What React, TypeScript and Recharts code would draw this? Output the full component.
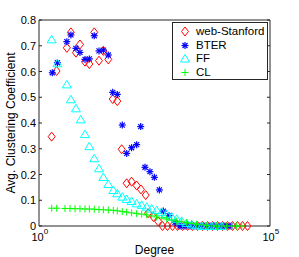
import React from 'react';
import { ScatterChart, Scatter, XAxis, YAxis, ReferenceLine } from 'recharts';

// web-Stanford
const webDegree = [1.88, 2.4, 4.0, 4.9, 6.3, 7.7, 9.9, 12.3, 15.7, 19.9, 24.7, 31.6, 39.4, 49.5, 61.6, 79, 101, 130, 161, 204, 230, 300, 380, 471, 604, 776, 995, 1277, 1638, 2102, 2697, 3459, 4438, 5694, 7305, 9372, 12024, 15427, 19792, 25393, 32578];
const webCoef = [0.347, 0.602, 0.692, 0.752, 0.673, 0.705, 0.638, 0.629, 0.752, 0.642, 0.68, 0.647, 0.493, 0.485, 0.298, 0.166, 0.172, 0.157, 0.142, 0.12, 0.05, 0.035, 0.018, 0, 0, 0, 0, 0, 0, 0, 0, 0, 0, 0, 0, 0, 0, 0, 0, 0, 0];

// BTER
const bterDegree = [1.94, 2.5, 4.0, 4.9, 6.3, 7.7, 9.9, 12.3, 15.7, 19.9, 24.7, 31.6, 39.4, 49.5, 63.5, 79, 101, 130, 159, 197, 252, 314, 403, 491, 651, 879, 1127, 1446, 1855, 2380, 3053, 3917, 5025, 6447, 8272, 10612, 13615];
const bterCoef = [0.595, 0.634, 0.716, 0.742, 0.69, 0.674, 0.647, 0.649, 0.739, 0.68, 0.683, 0.664, 0.519, 0.511, 0.392, 0.282, 0.304, 0.316, 0.386, 0.228, 0.211, 0.189, 0.14, 0.058, 0.04, 0.014, 0, 0, 0, 0, 0, 0, 0, 0, 0, 0, 0];

// FF
const ffDegree = [1.88, 2.5, 4.0, 4.9, 6.3, 8.0, 9.9, 12.3, 15.7, 19.9, 24.7, 31.6, 40.6, 49.5, 63.5, 79, 101, 130, 167, 215, 275, 353, 453, 581, 745, 957, 1227, 1574, 2019, 2590, 3324, 4264, 5470, 7017, 9010];
const ffCoef = [0.725, 0.632, 0.55, 0.492, 0.457, 0.414, 0.357, 0.31, 0.263, 0.224, 0.19, 0.163, 0.14, 0.127, 0.114, 0.105, 0.097, 0.088, 0.082, 0.075, 0.068, 0.062, 0.055, 0.047, 0.037, 0.028, 0.02, 0.012, 0.006, 0.003, 0, 0, 0, 0, 0];

// CL
const clDegree = [1.88, 2.42, 3.65, 4.69, 6.02, 7.71, 9.9, 12.3, 15.7, 19.9, 24.7, 31.6, 40.6, 49.5, 63.5, 79, 101, 130, 167, 215, 275, 353, 453, 581, 745, 957, 1227, 1574, 2019, 2590, 3324, 4264, 5470, 7017, 9010, 11560, 14830, 19020, 24400];
const clCoef = [0.069, 0.069, 0.068, 0.068, 0.067, 0.067, 0.066, 0.066, 0.065, 0.064, 0.063, 0.062, 0.061, 0.059, 0.056, 0.054, 0.051, 0.048, 0.046, 0.043, 0.039, 0.035, 0.031, 0.027, 0.023, 0.019, 0.016, 0.013, 0.01, 0.007, 0.004, 0.002, 0, 0, 0, 0, 0, 0, 0];

const yTicks = [0, 0.1, 0.2, 0.3, 0.4, 0.5, 0.6, 0.7, 0.8];
const xTicks = [1, 100000];

const FONT = '"Liberation Sans", Arial, sans-serif';
const AXIS = '#262626';

const toPoints = (xs: number[], ys: number[]) => xs.map((x, i) => ({ x, y: ys[i] }));

const Diamond = ({ cx, cy }: any) => (
  <polygon points={`${cx},${cy - 4.5} ${cx + 3.5},${cy} ${cx},${cy + 4.5} ${cx - 3.5},${cy}`} fill="none" stroke="#ff0000" strokeWidth={1} />
);

const Star = ({ cx, cy }: any) => (
  <g stroke="#0000ff" strokeWidth={1.2}>
    <line x1={cx - 3.5} y1={cy} x2={cx + 3.5} y2={cy} />
    <line x1={cx} y1={cy - 3.5} x2={cx} y2={cy + 3.5} />
    <line x1={cx - 2.5} y1={cy - 2.5} x2={cx + 2.5} y2={cy + 2.5} />
    <line x1={cx - 2.5} y1={cy + 2.5} x2={cx + 2.5} y2={cy - 2.5} />
  </g>
);

const Triangle = ({ cx, cy }: any) => (
  <polygon points={`${cx},${cy - 4} ${cx + 4.5},${cy + 3.5} ${cx - 4.5},${cy + 3.5}`} fill="none" stroke="#00ffff" strokeWidth={1} />
);

const Plus = ({ cx, cy }: any) => (
  <g stroke="#00ff00" strokeWidth={1}>
    <line x1={cx - 3.5} y1={cy} x2={cx + 3.5} y2={cy} />
    <line x1={cx} y1={cy - 3.5} x2={cx} y2={cy + 3.5} />
  </g>
);

const YTick = ({ y, payload }: any) => (
  <g>
    <text x={36} y={y} dy={4} textAnchor="end" fontSize={11} fontFamily={FONT} fill="#000">
      {String(payload.value)}
    </text>
    <line x1={39} x2={42} y1={y} y2={y} stroke={AXIS} />
    <line x1={267} x2={270} y1={y} y2={y} stroke={AXIS} />
  </g>
);

const XTick = ({ x, payload }: any) => (
  <text x={x - 7.5} y={241} fontSize={11} fontFamily={FONT} fill="#000">
    10
    <tspan dy={-7} fontSize={8}>{Math.round(Math.log10(payload.value))}</tspan>
  </text>
);

const legendItems = [
  { name: 'web-Stanford', Shape: Diamond },
  { name: 'BTER', Shape: Star },
  { name: 'FF', Shape: Triangle },
  { name: 'CL', Shape: Plus },
];

export default function App() {
  return (
    <div style={{ position: 'absolute', left: 0, top: 0, width: 299, height: 257, background: '#fff' }}>
      <ScatterChart width={299} height={257} margin={{ top: 20, right: 29, left: 0, bottom: 0 }}>
        <XAxis
          dataKey="x"
          type="number"
          scale="log"
          domain={[1, 100000]}
          ticks={xTicks}
          allowDataOverflow
          height={31}
          tickLine={false}
          axisLine={{ stroke: AXIS }}
          tick={<XTick />}
          label={{ value: 'Degree', position: 'insideBottom', offset: 3, fontSize: 12, fontFamily: FONT, fill: '#000' }}
        />
        <YAxis
          dataKey="y"
          type="number"
          domain={[0, 0.8]}
          ticks={yTicks}
          width={39}
          tickLine={false}
          axisLine={{ stroke: AXIS }}
          tick={<YTick />}
          label={{ value: 'Avg. Clustering Coefficient', angle: -90, position: 'insideLeft', offset: 11, fontSize: 12, fontFamily: FONT, fill: '#000', style: { textAnchor: 'middle' } }}
        />
        <ReferenceLine y={0.8} stroke={AXIS} />
        <ReferenceLine x={100000} stroke={AXIS} />
        <Scatter name="web-Stanford" data={toPoints(webDegree, webCoef)} shape={<Diamond />} isAnimationActive={false} />
        <Scatter name="BTER" data={toPoints(bterDegree, bterCoef)} shape={<Star />} isAnimationActive={false} />
        <Scatter name="FF" data={toPoints(ffDegree, ffCoef)} shape={<Triangle />} isAnimationActive={false} />
        <Scatter name="CL" data={toPoints(clDegree, clCoef)} shape={<Plus />} isAnimationActive={false} />
      </ScatterChart>
      <div
        style={{
          position: 'absolute',
          left: 172,
          top: 22,
          width: 94,
          height: 56,
          border: `1px solid ${AXIS}`,
          background: '#fff',
          fontFamily: FONT,
          fontSize: 11.5,
        }}
      >
        {legendItems.map(({ name, Shape }, i) => (
          <div key={name} style={{ position: 'absolute', left: 0, top: 2 + i * 13.5, height: 13, display: 'flex', alignItems: 'center' }}>
            <svg width={22} height={13} style={{ display: 'block' }}>
              <Shape cx={12} cy={6.5} />
            </svg>
            <span style={{ marginLeft: 1, lineHeight: '13px' }}>{name}</span>
          </div>
        ))}
      </div>
    </div>
  );
}
